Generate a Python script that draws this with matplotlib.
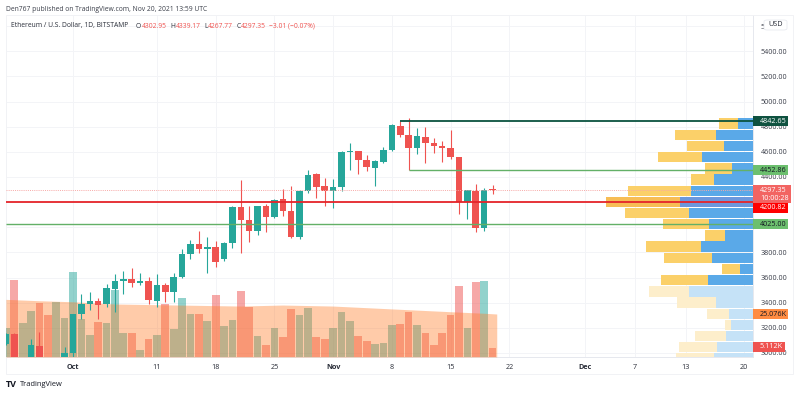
import numpy as np
import matplotlib
matplotlib.use('Agg')
import matplotlib.pyplot as plt
from matplotlib.patches import Rectangle, FancyBboxPatch, Polygon

plt.rcParams['font.family'] = ['Open Sans', 'DejaVu Sans']

# day number, 0 = Oct 1 2021
days = list(range(-8, 51))
op = [3071,3151,2925,2925,3056,2925,2805,2850,3000,3310,3390,3416,3390,3509,3575,3586,3559,3572,3416,3541,3487,3607,
      3787,3867,3829,3843,3747,3877,4161,4058,3970,4166,4084,4222,4129,3925,4288,4423,4328,4291,4320,4596,4604,4535,
      4469,4519,4617,4805,4733,4632,4720,4672,4646,4632,4559,4203,4288,3996,4302.95]
hi = [3155,3160,2950,3114,3169,2950,2950,3050,3310,3469,3487,3437,3549,3628,3654,3676,3636,3607,3628,3559,3634,3825,
      3899,3968,3920,3893,3885,4165,4376,4169,4172,4185,4227,4302,4328,4296,4455,4429,4394,4384,4604,4672,4609,4574,
      4535,4636,4821,4845,4866,4787,4795,4707,4688,4773,4559,4296,4344,4310,4339.17]
lo = [3065,2950,2815,2740,2900,2745,2785,2825,2970,3268,3342,3268,3363,3328,3469,3527,3541,3390,3368,3408,3408,3596,
      3745,3797,3639,3681,3732,3832,3797,3883,3938,3965,4071,4089,3912,3904,4270,4232,4169,4153,4291,4455,4421,4445,
      4328,4513,4610,4715,4455,4580,4508,4588,4521,4540,4105,4063,3965,3972,4267.77]
cl = [3151,2960,2925,3061,2925,2805,2850,3000,3310,3390,3416,3382,3514,3572,3586,3559,3572,3421,3541,3487,3607,3787,
      3864,3827,3843,3724,3875,4161,4058,3970,4169,4079,4217,4129,3920,4288,4415,4320,4288,4322,4596,4604,4535,4481,
      4524,4617,4811,4731,4632,4723,4672,4646,4628,4559,4203,4294,3996,4299,4297.35]
vol = [16.7,44.9,20.0,27.0,31.5,24.7,31.9,22.7,49.4,22.2,13.0,20.4,20.0,39.1,13.8,14.0,4.1,10.7,12.8,30.7,16.2,34.2,
       25.1,25.2,21.2,36.0,18.3,21.4,38.7,29.3,12.4,7.0,16.7,11.7,28.0,24.7,28.6,11.5,10.7,16.9,26.2,20.8,12.2,9.5,
       7.6,8.3,18.7,19.1,26.2,18.5,14.0,7.0,14.0,24.5,41.6,16.9,43.9,44.3,5.112]

# volume moving average
ma_days = [-8,-4,0,5,10,20,25,31,39,45,49,50.5]
ma_vals = [33.6,32.8,32.2,30.9,30.5,29.7,30.3,29.7,27.8,26.4,25.5,25.076]

# visible range volume profile
vp_price = [4824,4735,4646,4557,4468,4379,4290,4202,4113,4024,3935,3846,3757,3668,3579,3490,3401,3312,3224,3135,3046,2957]
vp_up = [15.7,37.7,29.7,51,21.7,39.3,62.3,73.3,64.3,44.7,28.3,52.3,41,13.7,45.7,64,37.3,24.3,22.3,27.7,36.7,39.3]
vp_down = [19,40.3,36.6,44.3,26.6,23,63.4,74,64.4,45.6,20.4,55,48,17.3,46.6,40,38.7,22,5.7,30.3,37.6,37.7]
vp_pale_from = 15

xtick_pos = [0,10,17,24,31,38,45,52,61,67,73,80]
xtick_lab = ['Oct','11','18','25','Nov','8','15','22','Dec','7','13','20']
ytick_pos = [5600,5400,5200,5000,4800,4600,4400,3800,3600,3400,3200,3000]
ygrid_extra = [4200,4000]

W, H = 800, 395
up_col = '#26a69a'
dn_col = '#ef5350'
txt_col = '#2a2e39'
bar_colors = [up_col if c >= o else dn_col for o, c in zip(op, cl)]

fig = plt.figure(figsize=(W/100, H/100), dpi=100, facecolor='white')
rect = [6/W, 1-357/H, 747.5/W, 342/H]
xl = (-7.986, 81.1)
yl = (2968, 5688)

# bottom axes holds grid and tick labels
ax = fig.add_axes(rect, zorder=0)
ax.set_xlim(xl)
ax.set_ylim(yl)
ax.set_xticks(xtick_pos)
ax.set_xticklabels(xtick_lab, fontsize=5.2, color=txt_col)
ax.yaxis.tick_right()
ax.set_yticks(ytick_pos)
ax.set_yticks(ygrid_extra, minor=True)
ax.set_yticklabels(['%.2f' % v for v in ytick_pos], fontsize=5.2, color='#3a3e49')
ax.tick_params(which='both', length=0)
ax.tick_params(axis='y', pad=5)
ax.tick_params(axis='x', pad=5)
ax.grid(True, which='both', color='#f3f4f7', lw=0.7)
for lab in ax.get_xticklabels():
    if lab.get_text() in ('Oct', 'Nov', 'Dec'):
        lab.set_fontweight('bold')
for s in ['top', 'left']:
    ax.spines[s].set_visible(False)
for s in ['bottom', 'right']:
    ax.spines[s].set_color('#e6e8ee')
    ax.spines[s].set_linewidth(0.7)

# volume pane
ax_vol = fig.add_axes(rect, zorder=1)
ax_vol.patch.set_alpha(0)
ax_vol.axis('off')
ax_vol.set_xlim(xl)
ax_vol.set_ylim(0, 199.4)
ax_vol.bar(days, vol, width=0.92, color=bar_colors, alpha=0.5, lw=0)
ax_vol.fill_between(ma_days, 0, ma_vals, color='#ff7e2a', alpha=0.4, lw=0)

# volume profile, drawn from the right edge
ax_vp = fig.add_axes(rect, zorder=1.5)
ax_vp.patch.set_alpha(0)
ax_vp.axis('off')
ax_vp.set_xlim(747.5, 0)
ax_vp.set_ylim(yl)
for i in range(len(vp_price)):
    if i == 7:
        c1, c2 = '#6c98dd', '#f7bd55'
    elif i >= vp_pale_from:
        c1, c2 = '#c5e2f7', '#fdeecb'
    else:
        c1, c2 = '#5aa9e8', '#fbd069'
    ax_vp.barh(vp_price[i], vp_up[i], height=82, color=c1, lw=0)
    ax_vp.barh(vp_price[i], vp_down[i], left=vp_up[i], height=82, color=c2, lw=0)

# candles and horizontal lines
ax_top = fig.add_axes(rect, zorder=2)
ax_top.patch.set_alpha(0)
ax_top.axis('off')
ax_top.set_xlim(xl)
ax_top.set_ylim(yl)
ax_top.vlines(days, lo, hi, colors=bar_colors, lw=0.8)
ax_top.bar(days, np.abs(np.array(cl) - np.array(op)), bottom=np.minimum(op, cl), width=0.78, color=bar_colors, lw=0)
ax_top.hlines(4842.65, 39, xl[1], color='#0b5340', lw=1.3)
ax_top.hlines(4452.86, 40, xl[1], color='#63b067', lw=1.0)
ax_top.hlines(4200.82, xl[0], xl[1], color='#e5242a', lw=1.3)
ax_top.hlines(4025.00, xl[0], xl[1], color='#63b067', lw=1.0)
ax_top.hlines(4297.35, xl[0], xl[1], color='#f7a9a7', lw=0.7, linestyles=(0, (1, 1.2)))

def price_tag(price, text, bg, fg, right=788, tall=10):
    # label box on the price scale, price gives the centre
    tr = ax_top.get_yaxis_transform()
    x0 = 1.0
    x1 = (right - 6) / 747.5
    hp = tall * 7.952
    ax_top.add_patch(Rectangle((x0, price - hp/2), x1 - x0, hp, transform=tr, color=bg, lw=0, clip_on=False, zorder=6))
    ax_top.text(x0 + 0.0085, price, text, transform=tr, fontsize=5.2, color=fg, va='center', ha='left', clip_on=False, zorder=7)

price_tag(4842.65, '4842.65', '#0f5240', 'white')
price_tag(4452.86, '4452.86', '#6cbf6e', '#131722')
price_tag(4264, '4297.35\n10:00:28', '#f26462', 'white', right=791, tall=17.5)
price_tag(4155, '4200.82', '#ff0000', 'white')
price_tag(4025.00, '4025.00', '#6cbf6e', '#131722')
price_tag(ma_vals[-1] * 1.715 * 7.952 + yl[0], '25.076K', '#ff8c42', '#131722')
price_tag(vol[-1] * 1.715 * 7.952 + yl[0] + 10, '5.112K', dn_col, 'white', right=785)

# outer frame of the chart
frame = Rectangle((6/W, 1-374/H), 787/W, 359/H, transform=fig.transFigure, fill=False, ec='#f1f2f5', lw=0.7)
fig.add_artist(frame)
usd = FancyBboxPatch((764/W, 1-30/H), 23/W, 10/H, boxstyle='round,pad=0,rounding_size=0.004', transform=fig.transFigure,
                     fc='white', ec='#e4e6ec', lw=0.5, zorder=4)
fig.add_artist(usd)
fig.text(775.5/W, 1-25/H, 'USD', fontsize=5.2, color=txt_col, ha='center', va='center', zorder=5)

# header texts
fig.text(6/W, 1-9.5/H, 'Den767 published on TradingView.com, Nov 20, 2021 13:59 UTC', fontsize=4.9, color='#3a3e49', va='center')
fig.text(11/W, 1-26/H, 'Ethereum / U.S. Dollar, 1D, BITSTAMP', fontsize=4.9, color=txt_col, va='center')
for x, s, c in [(136, 'O', txt_col), (141.5, '4302.95', dn_col), (170, 'H', txt_col), (175.5, '4339.17', dn_col),
                (204, 'L', txt_col), (207.5, '4267.77', dn_col), (237, 'C', txt_col), (241, '4297.35', dn_col),
                (269, '\u22123.01 (\u22120.07%)', dn_col)]:
    fig.text(x/W, 1-26/H, s, fontsize=4.9, color=c, va='center')

# logo
fig.text(6/W, 1-384.5/H, 'TV', fontsize=6.5, fontweight='bold', color='#131722', va='center')
fig.text(20/W, 1-384.5/H, 'TradingView', fontsize=5.4, color='#131722', va='center')

fig.savefig('out.png', dpi=100)
